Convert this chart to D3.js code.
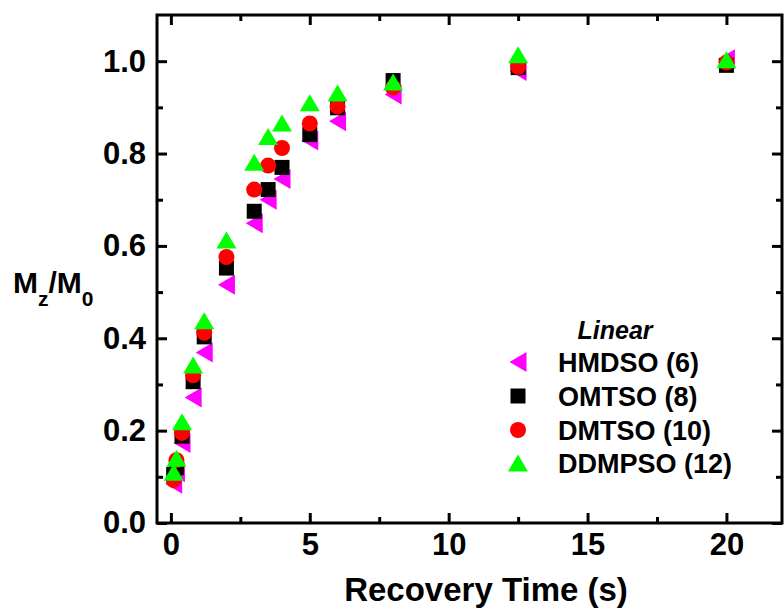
<!DOCTYPE html>
<html>
<head>
<meta charset="utf-8">
<script src="https://cdn.jsdelivr.net/npm/d3@7"></script>
<style>
  html, body { margin: 0; padding: 0; background: #fff; }
  svg { display: block; }
  text { font-family: "Liberation Sans", Arial, sans-serif; font-weight: bold; fill: #000; }
</style>
</head>
<body>
<div id="chart"></div>
<script>
// Recovery time (s) vs Mz/M0 for four linear siloxanes
const recoveryTimes = [0.1, 0.2, 0.4, 0.8, 1.2, 2, 3, 3.5, 4, 5, 6, 8, 12.5, 20];

const hmdso  = [0.085, 0.110, 0.173, 0.272, 0.369, 0.516, 0.649, 0.700, 0.745, 0.828, 0.870, 0.928, 0.979, 1.004];
const omtso  = [0.105, 0.120, 0.188, 0.306, 0.403, 0.552, 0.675, 0.722, 0.770, 0.841, 0.899, 0.958, 0.986, 0.991];
const dmtso  = [0.093, 0.136, 0.195, 0.320, 0.412, 0.576, 0.722, 0.774, 0.812, 0.865, 0.902, 0.943, 0.988, 0.997];
const ddmpso = [0.110, 0.140, 0.219, 0.342, 0.438, 0.613, 0.781, 0.837, 0.866, 0.910, 0.931, 0.955, 1.014, 1.003];

const seriesNames = ["HMDSO (6)", "OMTSO (8)", "DMTSO (10)", "DDMPSO (12)"];
const seriesValues = [hmdso, omtso, dmtso, ddmpso];
const seriesColors = ["#ff00ff", "#000000", "#ff0000", "#00ff00"];
const seriesShapes = ["left", "square", "circle", "up"];

const xMajorTicks = [0, 5, 10, 15, 20];
const xMinorTicks = [2.5, 7.5, 12.5, 17.5];
const yMajorTicks = [0, 0.2, 0.4, 0.6, 0.8, 1.0];
const yMinorTicks = [0.1, 0.3, 0.5, 0.7, 0.9];

const W = 784, H = 610;
const frame = { left: 157, right: 782, top: 15, bottom: 523 };

const svg = d3.select("#chart").append("svg")
    .attr("width", W).attr("height", H);

const x = d3.scaleLinear().domain([-0.5, 22]).range([frame.left, frame.right]);
const y = d3.scaleLinear().domain([0, 1.1]).range([frame.bottom, frame.top]);

// marker shapes
function shapePath(kind) {
    switch (kind) {
        case "up":   return "M0,-8.5L10,8.5L-10,8.5Z";
        case "left": return "M-8.5,0L8.5,-10L8.5,10Z";
        case "square": return "M-7.5,-7.5H7.5V7.5H-7.5Z";
        default: return d3.arc()({ innerRadius: 0, outerRadius: 8, startAngle: 0, endAngle: 2 * Math.PI });
    }
}

// axes: ticks point inward, mirrored on top/right
function styleAxis(g) {
    g.select(".domain").remove();
    g.selectAll(".tick line").attr("stroke", "#000").attr("stroke-width", 3);
    g.selectAll(".tick text")
        .attr("font-family", "'Liberation Sans', Arial, sans-serif")
        .attr("font-weight", "bold")
        .attr("font-size", 31)
        .attr("fill", "#000");
}

svg.append("g")
    .attr("transform", `translate(0,${frame.bottom})`)
    .call(d3.axisBottom(x).tickValues(xMajorTicks).tickSize(-10).tickPadding(10).tickFormat(d3.format("d")))
    .call(styleAxis);
svg.append("g")
    .attr("transform", `translate(0,${frame.bottom})`)
    .call(d3.axisBottom(x).tickValues(xMinorTicks).tickSize(-6).tickFormat(""))
    .call(styleAxis);
svg.append("g")
    .attr("transform", `translate(0,${frame.top})`)
    .call(d3.axisTop(x).tickValues(xMajorTicks).tickSize(-10).tickFormat(""))
    .call(styleAxis);
svg.append("g")
    .attr("transform", `translate(0,${frame.top})`)
    .call(d3.axisTop(x).tickValues(xMinorTicks).tickSize(-6).tickFormat(""))
    .call(styleAxis);

svg.append("g")
    .attr("transform", `translate(${frame.left},0)`)
    .call(d3.axisLeft(y).tickValues(yMajorTicks).tickSize(-10).tickPadding(11).tickFormat(d3.format(".1f")))
    .call(styleAxis);
svg.append("g")
    .attr("transform", `translate(${frame.left},0)`)
    .call(d3.axisLeft(y).tickValues(yMinorTicks).tickSize(-6).tickFormat(""))
    .call(styleAxis);
svg.append("g")
    .attr("transform", `translate(${frame.right},0)`)
    .call(d3.axisRight(y).tickValues(yMajorTicks).tickSize(-10).tickFormat(""))
    .call(styleAxis);
svg.append("g")
    .attr("transform", `translate(${frame.right},0)`)
    .call(d3.axisRight(y).tickValues(yMinorTicks).tickSize(-6).tickFormat(""))
    .call(styleAxis);

svg.append("rect")
    .attr("x", frame.left).attr("y", frame.top)
    .attr("width", frame.right - frame.left)
    .attr("height", frame.bottom - frame.top)
    .attr("fill", "none").attr("stroke", "#000").attr("stroke-width", 3);

// data markers
seriesValues.forEach((vals, si) => {
    svg.append("g")
        .selectAll("path")
        .data(vals)
        .join("path")
        .attr("transform", (d, i) => `translate(${x(recoveryTimes[i])},${y(d)})`)
        .attr("d", shapePath(seriesShapes[si]))
        .attr("fill", seriesColors[si]);
});

// axis titles
svg.append("text")
    .attr("x", 486)
    .attr("y", 601)
    .attr("text-anchor", "middle")
    .attr("font-size", 33)
    .text("Recovery Time (s)");

const yLabel = svg.append("text")
    .attr("x", 13)
    .attr("y", 293)
    .attr("font-size", 30);
yLabel.append("tspan").text("M");
yLabel.append("tspan").attr("font-size", 21).attr("dy", 13).text("z");
yLabel.append("tspan").attr("dy", -13).text("/M");
yLabel.append("tspan").attr("font-size", 21).attr("dy", 13).text("0");

// legend
svg.append("text")
    .attr("x", 615)
    .attr("y", 339)
    .attr("text-anchor", "middle")
    .attr("font-size", 25)
    .attr("font-style", "italic")
    .text("Linear");

const legendRows = [362, 396, 430, 463];
seriesNames.forEach((name, si) => {
    const row = svg.append("g").attr("transform", `translate(518,${legendRows[si]})`);
    row.append("path").attr("d", shapePath(seriesShapes[si])).attr("fill", seriesColors[si]);
    row.append("text")
        .attr("x", 40)
        .attr("y", 10)
        .attr("font-size", 27)
        .text(name);
});
</script>
</body>
</html>
